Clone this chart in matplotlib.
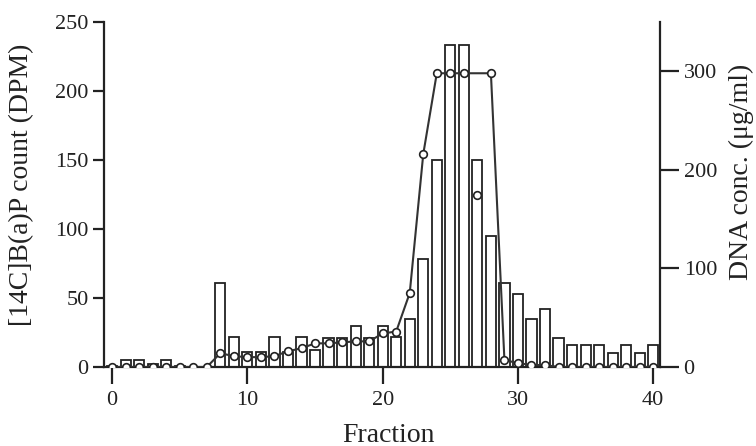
import numpy as np
import matplotlib; matplotlib.use("Agg")
import matplotlib.pyplot as plt

plt.rcParams["font.family"] = ["Liberation Serif", "DejaVu Serif"]

# fraction number, [14C]B(a)P count (bars, left axis), DNA conc. (circles, right axis)
fraction = np.arange(0, 41)
dpm = [1, 5, 5, 2, 5, 1, 0, 0, 61, 22, 11, 11, 22, 11, 22, 12, 21, 21, 30, 21, 30,
       22, 35, 78, 150, 233, 233, 150, 95, 61, 53, 35, 42, 21, 16, 16, 16, 10, 16, 10, 16]
dna = [0, 0, 0, 0, 0, 0, 0, 0, 14, 11, 10, 10, 11, 16, 19, 24, 24, 25, 26, 26, 34,
       36, 75, 216, 298, 298, 298, 174, 298, 7, 4, 2, 2, 0, 0, 0, 0, 0, 0, 0, 0]
line_skip = [27]          # point plotted but not joined by the curve

fig = plt.figure(figsize=(7.56, 4.46), dpi=100)
ax = fig.add_axes([104 / 756, 1 - 367 / 446, 556 / 756, 345 / 446])
ax2 = ax.twinx()

ax.bar(fraction, dpm, width=0.75, facecolor="white", edgecolor="#222222", linewidth=1.3, zorder=2)

dna = np.asarray(dna, float)
keep = ~np.isin(fraction, line_skip)
ax2.plot(fraction[keep], dna[keep], "-", color="#333333", lw=1.5, zorder=3)
ax2.plot(fraction, dna, "o", ms=5.5, mfc="white", mec="#222222", mew=1.2, zorder=4)

ax.set_xlim(-0.6, 40.5)
ax.set_ylim(0, 250)
ax2.set_ylim(0, 350)
ax.set_xticks([0, 10, 20, 30, 40])
ax.set_yticks([0, 50, 100, 150, 200, 250])
ax2.set_yticks([0, 100, 200, 300])

for a in (ax, ax2):
    a.spines["top"].set_visible(False)
    for s in a.spines.values():
        s.set_linewidth(1.6); s.set_color("#222222")
ax2.spines["left"].set_visible(False); ax2.spines["bottom"].set_visible(False)
ax.spines["right"].set_visible(False)

ax.tick_params(axis="x", direction="out", length=12, width=1.6, labelsize=16, pad=5, colors="#222222")
ax.tick_params(axis="y", direction="out", length=8, width=1.6, labelsize=16, pad=3, colors="#222222")
ax2.tick_params(axis="y", direction="out", length=14, width=1.6, labelsize=16, pad=3, colors="#222222")

fig.text(388 / 756, 1 - 435 / 446, "Fraction", fontsize=20, ha="center", va="center", color="#222222")
fig.text(22 / 756, 1 - 185 / 446, "[14C]B(a)P count (DPM)", fontsize=20, rotation=90,
         ha="center", va="center", color="#222222")
fig.text(741 / 756, 1 - 172 / 446, "DNA conc. (μg/ml)", fontsize=20, rotation=90,
         ha="center", va="center", color="#222222")

fig.savefig("out.png", dpi=100)
